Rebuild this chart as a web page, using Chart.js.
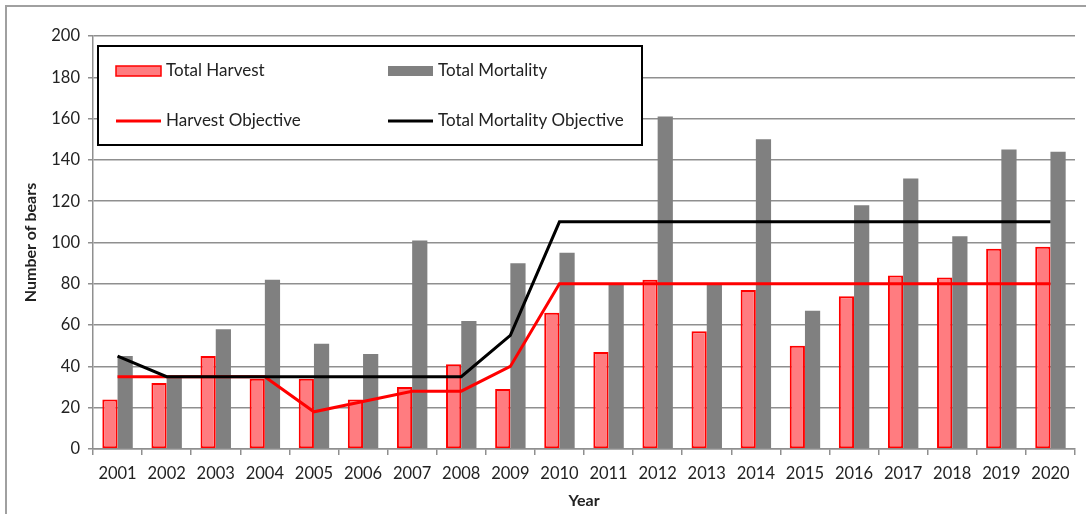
<!DOCTYPE html>
<html>
<head>
<meta charset="utf-8">
<script src="https://cdn.jsdelivr.net/npm/chart.js@4.4.1/dist/chart.umd.min.js"></script>
<style>
    html, body { margin: 0; padding: 0; background: #fff; overflow: hidden; }
    #frame { position: absolute; left: 5px; top: 5px; width: 1120px; height: 560px; border: 2px solid #a0a0a0; }
    #wrap { position: absolute; left: 0; top: 0; width: 1086px; height: 514px; }
</style>
</head>
<body>
<div id="frame"></div>
<div id="wrap"><canvas id="chart" width="1086" height="514"></canvas></div>
<script>
const years = ['2001', '2002', '2003', '2004', '2005', '2006', '2007', '2008', '2009', '2010',
               '2011', '2012', '2013', '2014', '2015', '2016', '2017', '2018', '2019', '2020'];
const totalHarvest = [24, 32, 45, 34, 34, 24, 30, 41, 29, 66, 47, 82, 57, 77, 50, 74, 84, 83, 97, 98];
const totalMortality = [45, 35, 58, 82, 51, 46, 101, 62, 90, 95, 80, 161, 80, 150, 67, 118, 131, 103, 145, 144];
const harvestObjective = [35, 35, 35, 35, 18, 23, 28, 28, 40, 80, 80, 80, 80, 80, 80, 80, 80, 80, 80, 80];
const mortalityObjective = [45, 35, 35, 35, 35, 35, 35, 35, 55, 110, 110, 110, 110, 110, 110, 110, 110, 110, 110, 110];

const FONT = 'Lato, "Open Sans", sans-serif';
const GRID = '#8f8f8f';
const TEXT = '#222';

// Legende im Rahmen, wie im Original
const boxLegend = {
    id: 'boxLegend',
    afterDraw(chart) {
        const ctx = chart.ctx;
        const ds = chart.data.datasets;
        ctx.save();
        ctx.fillStyle = '#fff';
        ctx.fillRect(98, 46, 544, 99);
        ctx.lineWidth = 2;
        ctx.strokeStyle = '#000';
        ctx.strokeRect(98, 46, 544, 99);

        const items = [
            { d: ds[0], x: 116, y: 71, bar: true },
            { d: ds[1], x: 388, y: 71, bar: true },
            { d: ds[2], x: 116, y: 121, bar: false },
            { d: ds[3], x: 388, y: 121, bar: false }
        ];
        ctx.font = '17px ' + FONT;
        ctx.textBaseline = 'middle';
        items.forEach(it => {
            if (it.bar) {
                ctx.fillStyle = it.d.backgroundColor;
                ctx.fillRect(it.x, it.y - 5, 45, 10);
                if (it.d.borderWidth) {
                    ctx.lineWidth = 1.5;
                    ctx.strokeStyle = it.d.borderColor;
                    ctx.strokeRect(it.x, it.y - 5, 45, 10);
                }
            } else {
                ctx.lineWidth = 3;
                ctx.strokeStyle = it.d.borderColor;
                ctx.beginPath();
                ctx.moveTo(it.x, it.y);
                ctx.lineTo(it.x + 45, it.y);
                ctx.stroke();
            }
            ctx.fillStyle = TEXT;
            ctx.fillText(it.d.label, it.x + 50, it.y);
        });
        ctx.restore();
    }
};

const ctx = document.getElementById('chart').getContext('2d');
new Chart(ctx, {
    type: 'bar',
    data: {
        labels: years,
        datasets: [
            {
                label: 'Total Harvest',
                data: totalHarvest,
                backgroundColor: '#ff7c80',
                borderColor: '#ff0000',
                borderWidth: 2,
                borderSkipped: false,
                order: 2
            },
            {
                label: 'Total Mortality',
                data: totalMortality,
                backgroundColor: '#808080',
                borderWidth: 0,
                order: 2
            },
            {
                type: 'line',
                label: 'Harvest Objective',
                data: harvestObjective,
                borderColor: '#ff0000',
                borderWidth: 3,
                pointRadius: 0,
                fill: false,
                tension: 0,
                order: 1
            },
            {
                type: 'line',
                label: 'Total Mortality Objective',
                data: mortalityObjective,
                borderColor: '#000000',
                borderWidth: 3,
                pointRadius: 0,
                fill: false,
                tension: 0,
                order: 0
            }
        ]
    },
    options: {
        responsive: false,
        animation: false,
        layout: { padding: { left: 0, right: 11, top: 36, bottom: 0 } },
        datasets: { bar: { categoryPercentage: 0.62, barPercentage: 1 } },
        plugins: {
            legend: { display: false },
            tooltip: { enabled: false }
        },
        scales: {
            x: {
                offset: true,
                grid: { display: true, drawOnChartArea: false, color: GRID, lineWidth: 1.5, tickLength: 6, offset: true },
                border: { color: GRID, width: 1.5 },
                ticks: { color: TEXT, font: { family: FONT, size: 16.5 }, padding: 9, maxRotation: 0, autoSkip: false },
                title: { display: true, text: 'Year', color: TEXT, font: { family: FONT, size: 16, weight: 'bold' }, padding: { top: 2, bottom: 4 } },
                afterFit: (scale) => { scale.height = 65; }
            },
            y: {
                min: 0,
                max: 200,
                ticks: { stepSize: 20, color: TEXT, font: { family: FONT, size: 16.5 }, padding: 8 },
                grid: { color: GRID, lineWidth: 1.5, tickLength: 5 },
                border: { color: GRID, width: 1.5 },
                title: { display: true, text: 'Number of bears', color: TEXT, font: { family: FONT, size: 16, weight: 'bold' }, padding: { top: 21, bottom: 0 } },
                afterFit: (scale) => { scale.width = 93; }
            }
        }
    },
    plugins: [boxLegend]
});
</script>
</body>
</html>
